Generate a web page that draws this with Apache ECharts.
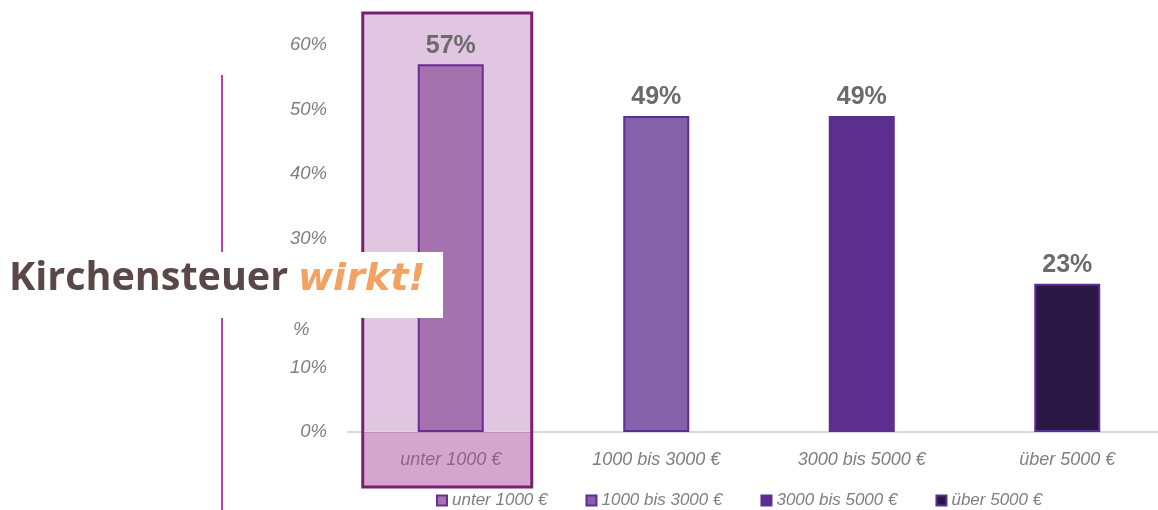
<!DOCTYPE html>
<html>
<head>
<meta charset="utf-8">
<script src="https://cdn.jsdelivr.net/npm/echarts@6/dist/echarts.min.js"></script>
<style>
  html, body { margin: 0; padding: 0; background: #ffffff; overflow: hidden; width: 1158px; height: 510px; }
  #chart { width: 1170px; height: 510px; }
</style>
</head>
<body>
<div id="chart"></div>
<script>
const categories = ['unter 1000 €', '1000 bis 3000 €', '3000 bis 5000 €', 'über 5000 €'];
const values = [57, 49, 49, 23];
const yTicks = [0, 10, 20, 30, 40, 50, 60];

const fillColors = ['#a472ae', '#8462aa', '#5c2e8e', '#2b1743'];
const borderColors = ['#6c2c96', '#5e2d94', '#5c2e8e', '#5c2e94'];
const FONT = "'Liberation Sans', Arial, sans-serif";
const GRAY = '#7f7f7f';

const chart = echarts.init(document.getElementById('chart'));

const series = categories.map((name, i) => ({
  name: name,
  type: 'bar',
  barWidth: 66,
  barGap: '-100%',
  z: 10,
  data: categories.map((c, j) => (j === i ? values[i] : '-')),
  itemStyle: { color: fillColors[i], borderColor: borderColors[i], borderWidth: 2 },
  label: {
    show: true,
    position: 'top',
    distance: 6,
    formatter: '{c}%',
    fontFamily: FONT,
    fontWeight: 'bold',
    fontSize: 25,
    color: '#6b6b6b'
  }
}));

chart.setOption({
  animation: false,
  grid: { left: 348, right: 0, top: 45, bottom: 78, containLabel: false },
  legend: {
    left: 436,
    top: 492,
    padding: 0,
    icon: 'rect',
    itemWidth: 10,
    itemHeight: 10,
    itemGap: 38,
    textStyle: { fontFamily: FONT, fontStyle: 'italic', fontSize: 17, color: GRAY },
    data: categories
  },
  xAxis: {
    type: 'category',
    data: categories,
    axisLine: { lineStyle: { color: '#d9d9d9', width: 2 } },
    axisTick: { show: false },
    axisLabel: { fontFamily: FONT, fontStyle: 'italic', fontSize: 18, color: GRAY, margin: 19 }
  },
  yAxis: {
    type: 'value',
    min: yTicks[0],
    max: yTicks[yTicks.length - 1],
    interval: 10,
    splitLine: { show: false },
    axisLine: { show: false },
    axisTick: { show: false },
    axisLabel: { fontFamily: FONT, fontStyle: 'italic', fontSize: 18.5, color: GRAY, margin: 21, formatter: '{value}%' }
  },
  series: series
});

// Highlight box around the first category, placed from the axis scale
const c0 = chart.convertToPixel({ xAxisIndex: 0 }, categories[0]);
const y0 = chart.convertToPixel({ yAxisIndex: 0 }, 0);
const boxLeft = c0 - 88, boxRight = c0 + 81, boxTop = 13, boxBottom = 487;

chart.setOption({
  graphic: [
    { type: 'rect', z: 0, silent: true,
      shape: { x: boxLeft, y: boxTop, width: boxRight - boxLeft, height: y0 - boxTop },
      style: { fill: '#e1c6e1' } },
    { type: 'rect', z: 100, silent: true,
      shape: { x: boxLeft, y: y0, width: boxRight - boxLeft, height: boxBottom - y0 },
      style: { fill: 'rgba(165,70,150,0.48)' } },
    { type: 'rect', z: 101, silent: true,
      shape: { x: boxLeft, y: boxTop, width: boxRight - boxLeft, height: boxBottom - boxTop },
      style: { fill: 'none', stroke: '#7a2074', lineWidth: 3 } },
    { type: 'line', z: 50, silent: true,
      shape: { x1: 222, y1: 75, x2: 222, y2: 510 },
      style: { stroke: '#b443ab', lineWidth: 2 } },
    { type: 'text', z: 50, silent: true, left: 293, top: 320,
      style: { text: '%', font: "italic 18.5px 'Liberation Sans', sans-serif", fill: GRAY } },
    { type: 'rect', z: 200, silent: true,
      shape: { x: 0, y: 252, width: 443, height: 66 },
      style: { fill: '#ffffff' } },
    { type: 'text', z: 201, silent: true, left: 9, top: 259,
      style: { text: 'Kirchensteuer', font: "bold 39.5px 'Open Sans', 'Liberation Sans', sans-serif", fill: '#5a4846' } },
    { type: 'text', z: 201, silent: true, left: 298, top: 261,
      style: { text: 'wirkt!', font: "italic bold 38px 'DejaVu Sans', sans-serif", fill: '#f2a262' } }
  ]
});
</script>
</body>
</html>
